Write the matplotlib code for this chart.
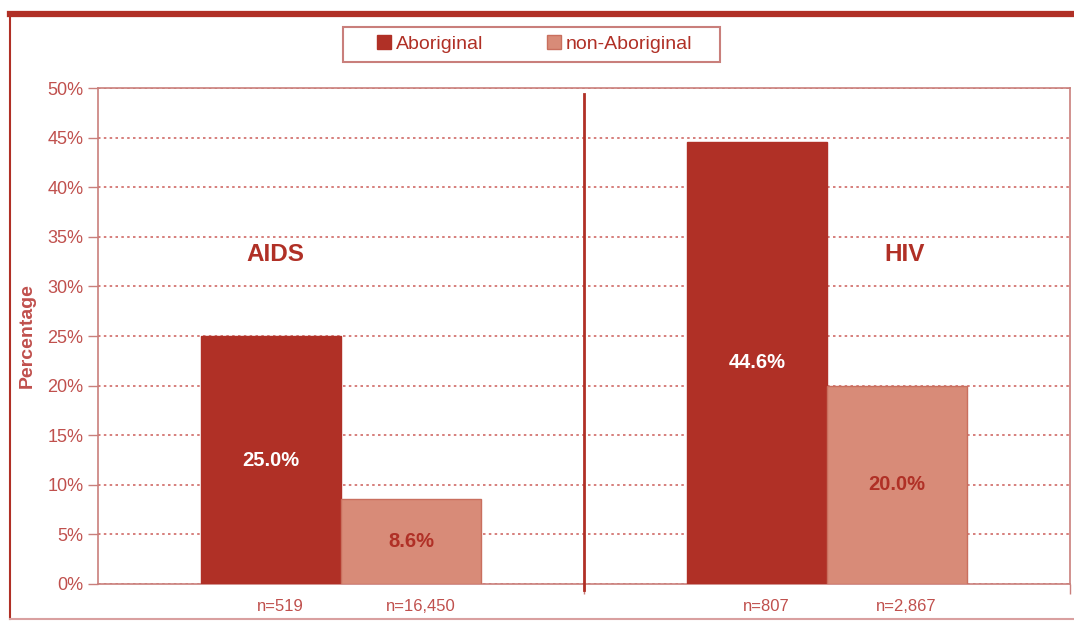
import matplotlib.pyplot as plt
from matplotlib.lines import Line2D
from matplotlib.patches import Patch, Rectangle
import numpy as np

plt.rcParams['font.family'] = ['Liberation Sans', 'DejaVu Sans']

groups = ['AIDS', 'HIV']
aboriginal = [25.0, 44.6]
non_aboriginal = [8.6, 20.0]
n_abo = ['n=519', 'n=807']
n_non = ['n=16,450', 'n=2,867']

dark = '#B03026'
light = '#D88B78'
axis_col = '#C97F7B'
text_col = '#C0504D'

fig = plt.figure(figsize=(10.74, 6.22), dpi=100)
ax = fig.add_axes([0.0912, 0.0611, 0.9051, 0.7974])

x = np.arange(len(groups))
w = 0.288
ax.bar(x - w/2, aboriginal, w, color=dark, edgecolor=dark, linewidth=1, zorder=3)
ax.bar(x + w/2, non_aboriginal, w, color=light, edgecolor='#C96F5E', linewidth=1, zorder=3)

ax.set_xlim(-0.5, 1.5)
ax.set_ylim(0, 50)
ax.set_yticks(np.arange(0, 51, 5))
ax.set_yticklabels([f'{v}%' for v in range(0, 51, 5)], fontsize=13, color=text_col)
ax.set_xticks([0.5, 1.5])
ax.set_xticklabels([])
ax.tick_params(axis='both', direction='out', length=7, color=axis_col, width=1)
ax.grid(axis='y', linestyle=(0, (1.5, 2)), color='#D06A66', linewidth=1.2, zorder=1)
for s in ax.spines.values():
    s.set_color(axis_col)
    s.set_linewidth(1.2)

ax.set_ylabel('Percentage', fontsize=14, fontweight='bold', color=text_col, labelpad=8)

# value labels inside bars
for i in range(len(groups)):
    ax.text(x[i] - w/2, aboriginal[i] / 2, f'{aboriginal[i]:.1f}%', ha='center', va='center',
            color='white', fontsize=14.5, fontweight='bold', zorder=4)
    ax.text(x[i] + w/2, non_aboriginal[i] / 2, f'{non_aboriginal[i]:.1f}%', ha='center', va='center',
            color=dark, fontsize=14.5, fontweight='bold', zorder=4)
    ax.text(x[i] - w/2 + 0.02, -2.3, n_abo[i], ha='center', va='center', color=text_col, fontsize=12)
    ax.text(x[i] + w/2 + 0.02, -2.3, n_non[i], ha='center', va='center', color=text_col, fontsize=12)

ax.text(-0.134, 33.2, 'AIDS', ha='center', va='center', color=dark, fontsize=17.5, fontweight='bold')
ax.text(1.16, 33.2, 'HIV', ha='center', va='center', color=dark, fontsize=17.5, fontweight='bold')

# divider between panels
ax.plot([0.5, 0.5], [49.4, -0.6], color=dark, linewidth=2, clip_on=False, zorder=5)

handles = [Patch(facecolor=dark, edgecolor=dark), Patch(facecolor=light, edgecolor='#C96F5E')]
leg = fig.legend(handles, ['Aboriginal', 'non-Aboriginal'], loc='center', bbox_to_anchor=(0.498, 0.929),
                 ncol=2, fontsize=14, frameon=False, handlelength=0.7, handleheight=0.7,
                 handletextpad=0.25, columnspacing=3.3, labelcolor=dark)
# legend box drawn separately so it can be wider than the entries
fig.add_artist(Rectangle((343/1074, 1 - 62/622), 377/1074, 35/622, transform=fig.transFigure,
                         facecolor='none', edgecolor=axis_col, linewidth=1.5))

# outer frame
fig.add_artist(Line2D([10/1074, 1], [1 - 14/622, 1 - 14/622], color=dark, linewidth=4.5))
fig.add_artist(Line2D([10/1074, 10/1074], [1 - 14/622, 1 - 619/622], color=dark, linewidth=1.5))
fig.add_artist(Line2D([10/1074, 1], [1 - 619/622, 1 - 619/622], color='#D9A0A0', linewidth=1.5))

fig.savefig('out.png', dpi=100)
